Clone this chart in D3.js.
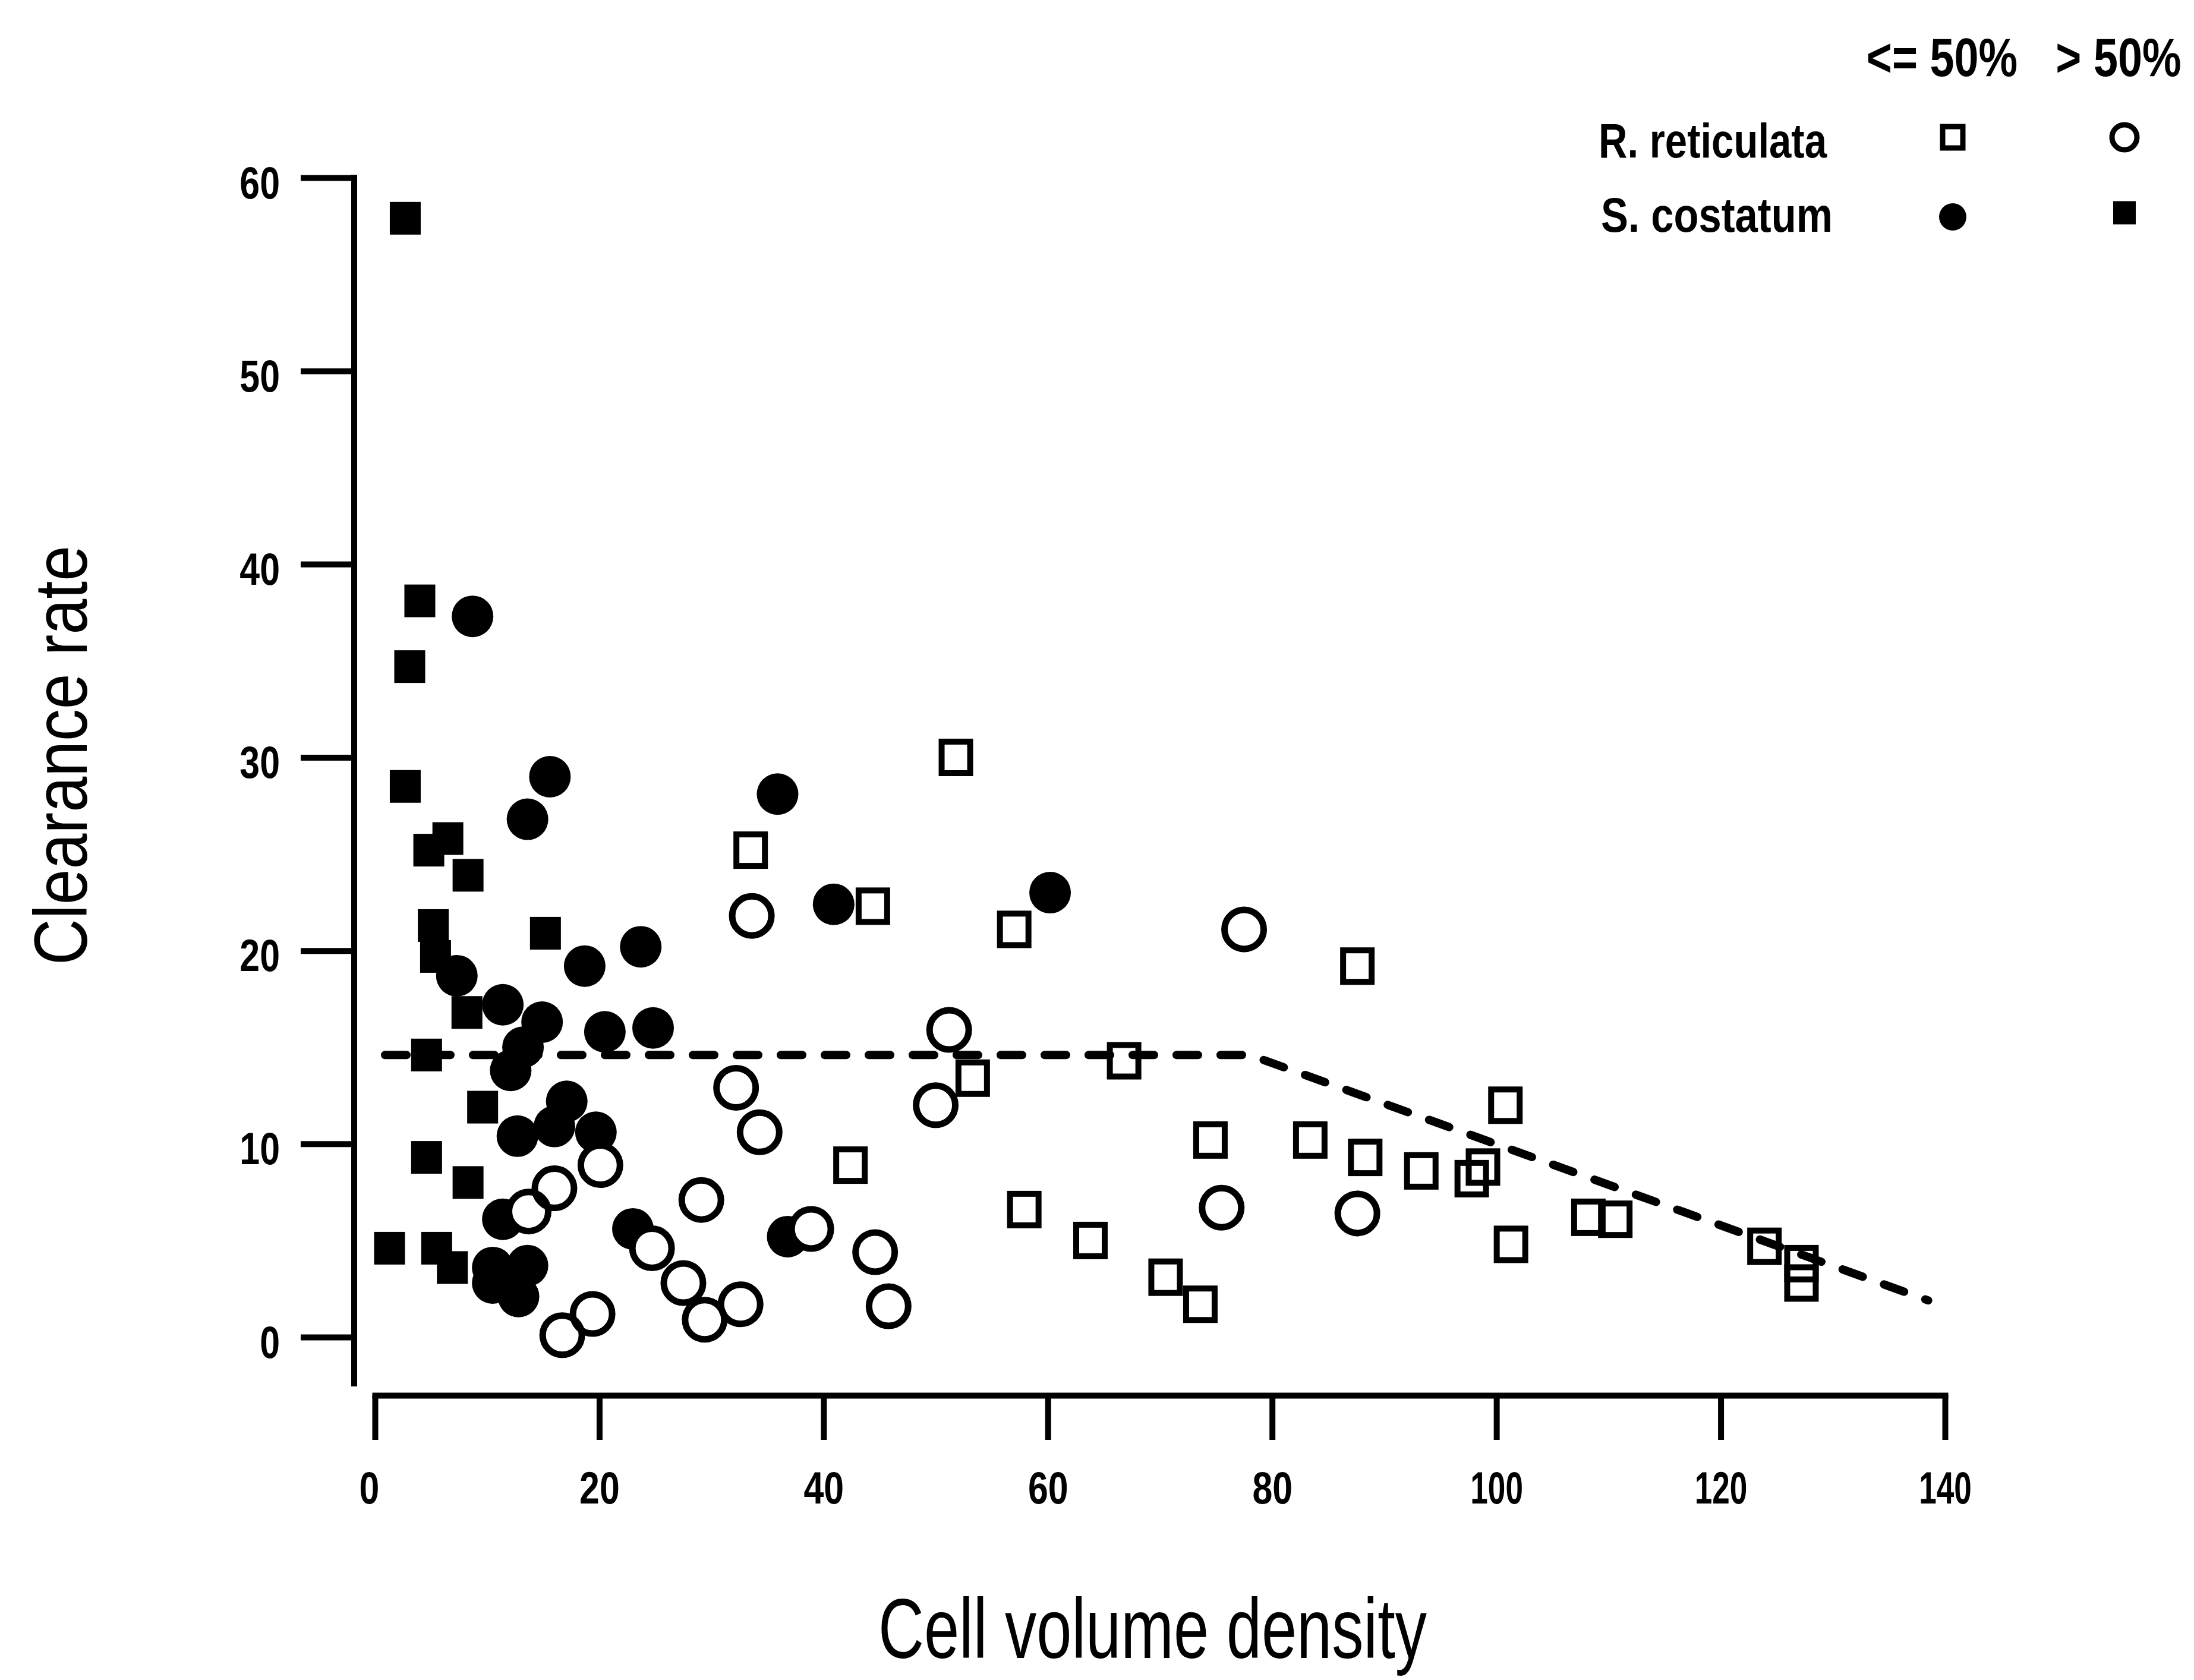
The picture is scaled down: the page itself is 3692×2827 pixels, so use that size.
<!DOCTYPE html>
<html><head><meta charset="utf-8">
<script src="https://cdn.jsdelivr.net/npm/d3@7"></script>
<style>html,body{margin:0;padding:0;background:#fff;} svg{display:block;}</style>
</head><body>
<script>
// ---- data ----
const xTicks = [0, 20, 40, 60, 80, 100, 120, 140];
const yTicks = [0, 10, 20, 30, 40, 50, 60];

// R. reticulata, <= 50% (open squares)
const rretLowX = [51.8, 33.5, 44.4, 57.0, 87.6, 53.3, 66.8, 100.8, 74.5, 83.4, 88.3, 93.3, 98.8, 97.8, 42.4, 57.9, 63.8, 70.5, 73.6, 101.3, 108.2, 110.6, 123.9, 127.2, 127.2];
const rretLowY = [30.0, 25.2, 22.3, 21.1, 19.2, 13.4, 14.3, 12.0, 10.2, 10.2, 9.3, 8.6, 8.8, 8.2, 8.9, 6.6, 5.0, 3.1, 1.7, 4.8, 6.2, 6.1, 4.7, 3.8, 2.8];

// R. reticulata, > 50% (open circles)
const rretHighX = [33.6, 77.5, 51.2, 50.0, 32.2, 34.3, 20.1, 16.0, 13.7, 29.1, 38.9, 24.7, 44.6, 27.5, 29.4, 32.6, 19.4, 16.7, 45.8, 75.5, 87.6];
const rretHighY = [21.8, 21.1, 15.9, 12.0, 12.9, 10.6, 8.9, 7.7, 6.5, 7.1, 5.6, 4.6, 4.4, 2.8, 0.9, 1.7, 1.2, 0.1, 1.6, 6.7, 6.4];

// S. costatum, <= 50% (filled circles)
const scosLowX = [8.7, 15.6, 13.6, 35.9, 40.9, 60.2, 23.7, 18.7, 7.3, 11.4, 14.9, 20.5, 24.8, 13.2, 12.1, 17.1, 16.0, 12.7, 19.7, 11.4, 23.0, 36.8, 10.5, 13.6, 12.8, 10.5];
const scosLowY = [37.3, 29.0, 26.8, 28.1, 22.4, 23.0, 20.2, 19.2, 18.7, 17.2, 16.3, 15.8, 16.0, 15.0, 13.8, 12.2, 10.9, 10.4, 10.6, 6.1, 5.6, 5.2, 3.6, 3.7, 2.1, 2.8];

// S. costatum, > 50% (filled squares)
const scosHighX = [2.7, 4.0, 3.1, 2.7, 4.8, 6.5, 8.3, 5.2, 5.4, 15.2, 8.2, 4.6, 9.6, 4.6, 8.3, 1.3, 5.5, 6.9];
const scosHighY = [57.9, 38.1, 34.7, 28.5, 25.2, 25.8, 23.9, 21.3, 19.7, 20.9, 16.8, 14.6, 11.9, 9.3, 8.0, 4.6, 4.6, 3.6];

// fitted broken-stick line (dashed)
const fitX = [0.9, 78, 138.5];
const fitY = [14.6, 14.6, 1.9];

const legendCols = ["<= 50%", "> 50%"];
const legendRows = ["R. reticulata", "S. costatum"];

// ---- drawing ----
const W = 3692, H = 2827;
const FONT = "'Liberation Sans', Arial, sans-serif";
const svg = d3.select("body").append("svg")
  .attr("width", W).attr("height", H)
  .style("background", "#fff");

const x = d3.scaleLinear().domain([0, 140]).range([631, 3273]);
const y = d3.scaleLinear().domain([0, 60]).range([2250, 299]);

// Y axis
const gy = svg.append("g").attr("transform", "translate(596,0)")
  .call(d3.axisLeft(y).tickValues(yTicks).tickSize(90).tickSizeOuter(0).tickFormat(d3.format("d")));
gy.select(".domain").attr("d", `M0,${y(60)}V${y(-2.4)}`)
  .attr("stroke", "#000").attr("stroke-width", 10).attr("fill", "none").attr("stroke-linecap", "square");
gy.selectAll(".tick line").attr("stroke", "#000").attr("stroke-width", 10);
gy.selectAll(".tick text")
  .attr("x", null).attr("dy", null).attr("text-anchor", "end")
  .attr("transform", "translate(-125,34) scale(0.8,1)")
  .attr("fill", "#000")
  .style("font-family", FONT).style("font-weight", "bold").style("font-size", "76px");

// X axis
const gx = svg.append("g").attr("transform", "translate(0,2348)")
  .call(d3.axisBottom(x).tickValues(xTicks).tickSize(75).tickSizeOuter(0).tickFormat(d3.format("d")));
gx.select(".domain").attr("stroke", "#000").attr("stroke-width", 10).attr("stroke-linecap", "square");
gx.selectAll(".tick line").attr("stroke", "#000").attr("stroke-width", 10);
gx.selectAll(".tick text")
  .attr("y", null).attr("dy", null).attr("text-anchor", "middle")
  .attr("transform", d => `translate(${d === 0 ? -10 : 0},182) scale(${d >= 100 ? 0.7 : 0.8},1)`)
  .attr("fill", "#000")
  .style("font-family", FONT).style("font-weight", "bold").style("font-size", "76px");

// axis titles
svg.append("text")
  .attr("transform", "translate(146,1271) rotate(-90)")
  .attr("text-anchor", "middle")
  .attr("textLength", 706).attr("lengthAdjust", "spacingAndGlyphs")
  .style("font-family", FONT).style("font-size", "126px").attr("fill", "#000")
  .text("Clearance rate");

svg.append("text")
  .attr("x", 1478).attr("y", 2790)
  .attr("textLength", 923).attr("lengthAdjust", "spacingAndGlyphs")
  .style("font-family", FONT).style("font-size", "142px").attr("fill", "#000")
  .text("Cell volume density");

// markers
const pts = (xs, ys) => xs.map((v, i) => [v, ys[i]]);
const plot = svg.append("g");

// filled squares (S. costatum > 50%)
plot.selectAll("rect.fsq").data(pts(scosHighX, scosHighY)).join("rect").attr("class", "fsq")
  .attr("x", d => x(d[0]) - 26).attr("y", d => y(d[1]) - 27.5)
  .attr("width", 52).attr("height", 55).attr("fill", "#000");

// filled circles (S. costatum <= 50%)
plot.selectAll("circle.fci").data(pts(scosLowX, scosLowY)).join("circle").attr("class", "fci")
  .attr("cx", d => x(d[0])).attr("cy", d => y(d[1])).attr("r", 35).attr("fill", "#000");

// open marker white fills
const oSq = pts(rretLowX, rretLowY), oCi = pts(rretHighX, rretHighY);
plot.selectAll("circle.ociw").data(oCi).join("circle").attr("class", "ociw")
  .attr("cx", d => x(d[0])).attr("cy", d => y(d[1])).attr("r", 33).attr("fill", "#fff");
plot.selectAll("rect.osqw").data(oSq).join("rect").attr("class", "osqw")
  .attr("x", d => x(d[0]) - 24).attr("y", d => y(d[1]) - 26.5)
  .attr("width", 48).attr("height", 53).attr("fill", "#fff");

// open marker outlines
plot.selectAll("circle.oci").data(oCi).join("circle").attr("class", "oci")
  .attr("cx", d => x(d[0])).attr("cy", d => y(d[1])).attr("r", 33)
  .attr("fill", "none").attr("stroke", "#000").attr("stroke-width", 11);
plot.selectAll("rect.osq").data(oSq).join("rect").attr("class", "osq")
  .attr("x", d => x(d[0]) - 24).attr("y", d => y(d[1]) - 26.5)
  .attr("width", 48).attr("height", 53)
  .attr("fill", "none").attr("stroke", "#000").attr("stroke-width", 10);

// dashed fit line
const line = d3.line().x(d => x(d[0])).y(d => y(d[1]));
svg.append("path").datum(pts(fitX, fitY)).attr("d", line)
  .attr("fill", "none").attr("stroke", "#000").attr("stroke-width", 14)
  .attr("stroke-linecap", "round").attr("stroke-dasharray", "36 38");

// legend
const lg = svg.append("g");
const colX = [3268, 3565];
lg.selectAll("text.col").data(legendCols).join("text").attr("class", "col")
  .attr("text-anchor", "middle")
  .attr("transform", (d, i) => `translate(${colX[i]},128) scale(0.82,1)`)
  .style("font-family", FONT).style("font-weight", "bold").style("font-size", "90px").attr("fill", "#000")
  .text(d => d);
const rowY = [265, 390], rowX = [2690, 2694], rowW = [384, 390];
lg.selectAll("text.row").data(legendRows).join("text").attr("class", "row")
  .attr("x", (d, i) => rowX[i]).attr("y", (d, i) => rowY[i])
  .attr("textLength", (d, i) => rowW[i]).attr("lengthAdjust", "spacingAndGlyphs")
  .style("font-family", FONT).style("font-weight", "bold").style("font-size", "82px").attr("fill", "#000")
  .text(d => d);
// legend symbols
lg.append("rect").attr("x", 3286 - 17).attr("y", 231 - 18).attr("width", 34).attr("height", 36)
  .attr("fill", "#fff").attr("stroke", "#000").attr("stroke-width", 9);
lg.append("circle").attr("cx", 3575).attr("cy", 231).attr("r", 21)
  .attr("fill", "#fff").attr("stroke", "#000").attr("stroke-width", 9);
lg.append("circle").attr("cx", 3286).attr("cy", 365).attr("r", 23).attr("fill", "#000");
lg.append("rect").attr("x", 3575 - 19).attr("y", 358 - 19.5).attr("width", 38).attr("height", 39).attr("fill", "#000");
</script>
</body></html>
